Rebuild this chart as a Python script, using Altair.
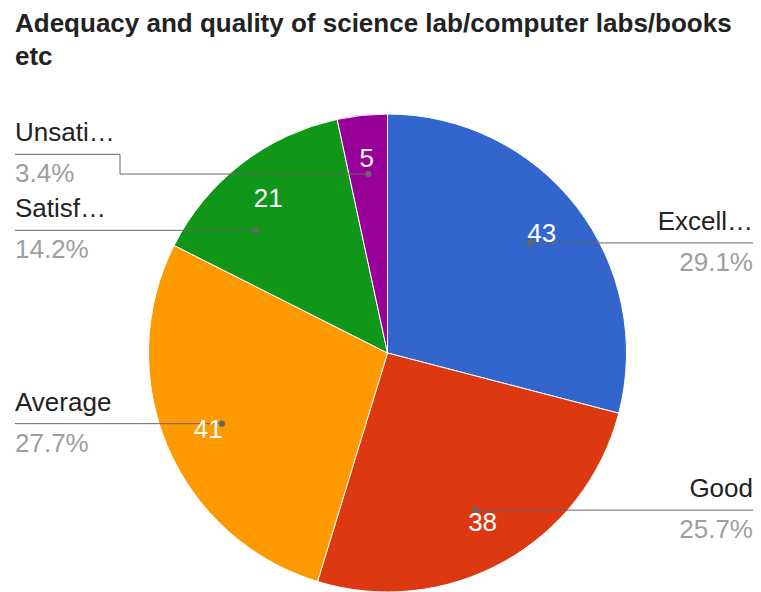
import math
import altair as alt
import pandas as pd

# ---- data ----
categories = ["Excellent", "Good", "Average", "Satisfactory", "Unsatisfactory"]
short_labels = ["Excell…", "Good", "Average", "Satisf…", "Unsati…"]
values = [43, 38, 41, 21, 5]
colors = ["#3366cc", "#dc3912", "#ff9900", "#109618", "#990099"]
title_lines = ["Adequacy and quality of science lab/computer labs/books", "etc"]

# ---- layout constants (view pixels) ----
W, H = 745, 584
CX, CY, R = 379.5, 345.0, 239.0
R_NUM = 195.0
R_DOT = 180.0
LEFT_X = 7.0
RIGHT_X = 745.0
RIGHT_END = 745.0
LABEL_GAP = 76.0
ELBOW = 105.0
FONT = "Arial"
FS = 26

total = float(sum(values))
slices = []
start = 0.0
for i, (c, lab, v) in enumerate(zip(categories, short_labels, values)):
    a0 = start / total * 2 * math.pi
    a1 = (start + v) / total * 2 * math.pi
    start += v
    mid = (a0 + a1) / 2
    side = "right" if math.sin(mid) > 0 else "left"
    dot_x = CX + R_DOT * math.sin(mid)
    dot_y = CY - R_DOT * math.cos(mid)
    slices.append(dict(idx=i, cat=c, label=lab, value=v, a0=a0, a1=a1, mid=mid,
                       side=side, dot_x=dot_x, dot_y=dot_y, ly=dot_y,
                       num_x=CX + R_NUM * math.sin(mid),
                       num_y=CY - R_NUM * math.cos(mid),
                       pct=f"{v / total * 100:.1f}%"))

# resolve label overlaps per side
for side in ("left", "right"):
    group = sorted([s for s in slices if s["side"] == side], key=lambda s: s["ly"])
    for _ in range(50):
        moved = False
        for a, b in zip(group, group[1:]):
            gap = b["ly"] - a["ly"]
            if gap < LABEL_GAP - 1e-6:
                d = (LABEL_GAP - gap) / 2
                a["ly"] -= d
                b["ly"] += d
                moved = True
        if not moved:
            break

lead_rows, text_rows, dot_rows = [], [], []
for s in slices:
    ly = s["ly"]
    dx_, dy_ = s["dot_x"], s["dot_y"]
    elbow = False
    if abs(ly - s["dot_y"]) > 0.5:
        dy = ly - CY
        if abs(dy) <= R_DOT:
            dx = math.sqrt(R_DOT ** 2 - dy ** 2) * (1 if s["side"] == "right" else -1)
            ang = math.atan2(dx, -dy) % (2 * math.pi)
            if s["a0"] <= ang <= s["a1"]:
                dx_, dy_ = CX + dx, ly
            else:
                elbow = True
        else:
            elbow = True
    if s["side"] == "left":
        if elbow:
            pts = [(LEFT_X, ly), (LEFT_X + ELBOW, ly), (LEFT_X + ELBOW, dy_), (dx_, dy_)]
        else:
            pts = [(LEFT_X, ly), (dx_, ly)]
        tx = LEFT_X
    else:
        if elbow:
            pts = [(dx_, dy_), (RIGHT_END - ELBOW, dy_), (RIGHT_END - ELBOW, ly), (RIGHT_END, ly)]
        else:
            pts = [(dx_, ly), (RIGHT_END, ly)]
        tx = RIGHT_X
    for k, (px, py) in enumerate(pts):
        lead_rows.append(dict(cat=s["cat"], seq=k, x=px, y=py))
    dot_rows.append(dict(cat=s["cat"], x=dx_, y=dy_))
    text_rows.append(dict(cat=s["cat"], side=s["side"], kind="name", text=s["label"], x=tx, y=ly - 13))
    text_rows.append(dict(cat=s["cat"], side=s["side"], kind="pct", text=s["pct"], x=tx, y=ly + 28))

pie_df = pd.DataFrame(slices)
lead_df = pd.DataFrame(lead_rows)
dot_df = pd.DataFrame(dot_rows)
text_df = pd.DataFrame(text_rows)
title_df = pd.DataFrame({"line": title_lines, "x": [LEFT_X] * 2,
                         "y": [24 + 33 * n for n in range(len(title_lines))]})

X = lambda f: alt.X(f, type="quantitative", scale=None, axis=None)
Y = lambda f: alt.Y(f, type="quantitative", scale=None, axis=None)

pie = alt.Chart(pie_df).mark_arc(outerRadius=R, stroke="white", strokeWidth=1).encode(
    theta=alt.Theta("value:Q", stack=True),
    order=alt.Order("idx:Q"),
    color=alt.Color("cat:N", scale=alt.Scale(domain=categories, range=colors), legend=None),
    x=alt.value(CX), y=alt.value(CY),
)

nums = alt.Chart(pie_df).mark_text(font=FONT, fontSize=FS, color="white", baseline="middle", align="center").encode(
    x=X("num_x"), y=Y("num_y"), text="value:Q"
)

leads = alt.Chart(lead_df).mark_line(color="#666666", strokeWidth=1).encode(
    x=X("x"), y=Y("y"), detail="cat:N", order="seq:Q"
)

dots = alt.Chart(dot_df).mark_circle(color="#666666", size=38, opacity=1).encode(
    x=X("x"), y=Y("y")
)

def label_layer(side, kind, color, align):
    return alt.Chart(text_df).transform_filter(
        (alt.datum.side == side) & (alt.datum.kind == kind)
    ).mark_text(font=FONT, fontSize=FS, color=color, align=align, baseline="alphabetic").encode(
        x=X("x"), y=Y("y"), text="text:N"
    )

labels = [
    label_layer("left", "name", "#222222", "left"),
    label_layer("left", "pct", "#9e9e9e", "left"),
    label_layer("right", "name", "#222222", "right"),
    label_layer("right", "pct", "#9e9e9e", "right"),
]

title = alt.Chart(title_df).mark_text(font=FONT, fontSize=26, fontWeight="bold", color="#222222",
                                      align="left", baseline="alphabetic").encode(
    x=X("x"), y=Y("y"), text="line:N"
)

chart = alt.layer(pie, leads, dots, nums, *labels, title).properties(
    width=W, height=H, padding=0, autosize=alt.AutoSizeParams(type="none")
).configure_view(stroke=None)

chart.save("out.html", embed_options={"renderer": "svg", "actions": False})
